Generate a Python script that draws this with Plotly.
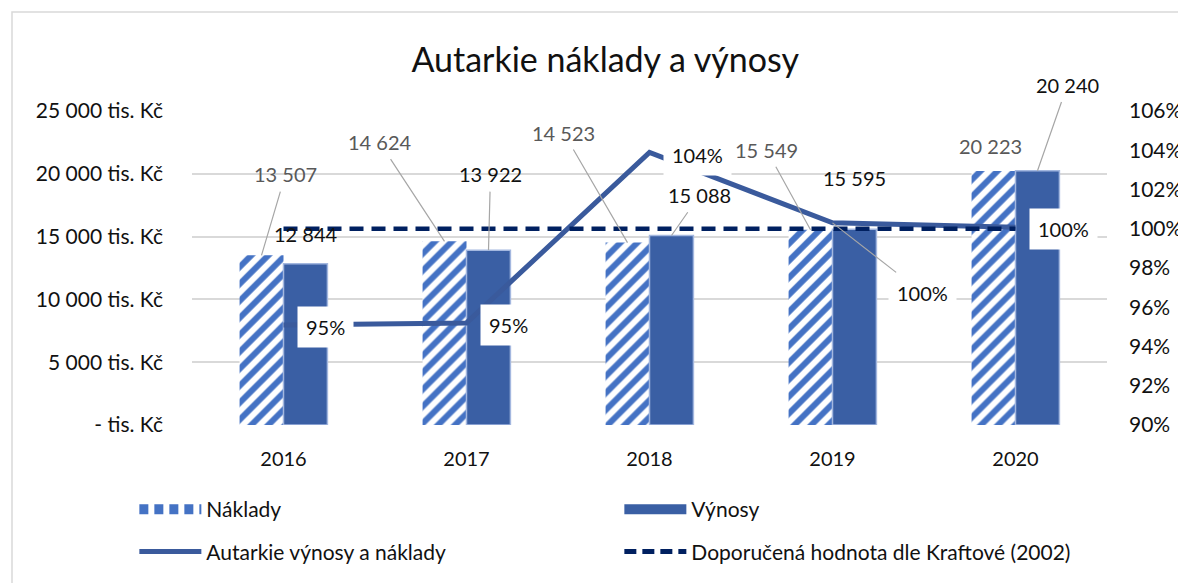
import plotly.graph_objects as go

years = ["2016", "2017", "2018", "2019", "2020"]
naklady = [13507, 14624, 14523, 15549, 20223]
vynosy = [12844, 13922, 15088, 15595, 20240]
autarkie = [0.9509, 0.9520, 1.0389, 1.0030, 1.0008]
doporucena = [1.0, 1.0, 1.0, 1.0, 1.0]

left_tickvals = [0, 5000, 10000, 15000, 20000, 25000]
left_ticktext = ["- tis. Kč", "5 000 tis. Kč", "10 000 tis. Kč", "15 000 tis. Kč",
                 "20 000 tis. Kč", "25 000 tis. Kč"]
right_tickvals = [0.90, 0.92, 0.94, 0.96, 0.98, 1.00, 1.02, 1.04, 1.06]
right_ticktext = ["90%", "92%", "94%", "96%", "98%", "100%", "102%", "104%", "106%"]
naklady_labels = ["13 507", "14 624", "14 523", "15 549", "20 223"]
vynosy_labels = ["12 844", "13 922", "15 088", "15 595", "20 240"]
autarkie_labels = ["95%", "95%", "104%", "100%", "100%"]

FONT = "Lato, 'Open Sans', sans-serif"
BLUE_HATCH = "#4472C4"
BLUE_BAR = "#3A5FA4"
BLUE_LINE = "#3A5A9C"
NAVY = "#002060"
GRAY_TXT = "#595959"
LEADER = "#A6A6A6"
LBL = 20

# page body has an 8px default margin; figure is sized to fill the rest
W, H = 1178, 575

fig = go.Figure()

fig.add_trace(go.Bar(
    x=years, y=naklady, name="Náklady", showlegend=False,
    marker=dict(color="white", line=dict(width=0),
                pattern=dict(shape="/", fgcolor=BLUE_HATCH, bgcolor="white",
                             size=12, solidity=0.5, fgopacity=1)),
    hoverinfo="skip"))
fig.add_trace(go.Bar(
    x=years, y=vynosy, name="Výnosy", showlegend=False,
    marker=dict(color=BLUE_BAR, line=dict(color="#A3B7DF", width=1.5)),
    hoverinfo="skip"))
fig.add_trace(go.Scatter(
    x=years, y=autarkie, yaxis="y2", mode="lines", showlegend=False,
    line=dict(color=BLUE_LINE, width=5), hoverinfo="skip"))
fig.add_trace(go.Scatter(
    x=years, y=doporucena, yaxis="y2", mode="lines", showlegend=False,
    line=dict(color=NAVY, width=4.5, dash="14px,8px"), hoverinfo="skip"))

# legend-only entries
fig.add_trace(go.Scatter(x=[None], y=[None], mode="lines", name="Náklady",
                         line=dict(color=BLUE_HATCH, width=12, dash="9px,6px"),
                         legend="legend"))
fig.add_trace(go.Scatter(x=[None], y=[None], mode="lines", name="Výnosy",
                         line=dict(color=BLUE_BAR, width=14), legend="legend"))
fig.add_trace(go.Scatter(x=[None], y=[None], mode="lines", name="Autarkie výnosy a náklady",
                         line=dict(color=BLUE_LINE, width=5), legend="legend2"))
fig.add_trace(go.Scatter(x=[None], y=[None], mode="lines",
                         name="Doporučená hodnota dle Kraftové (2002)",
                         line=dict(color=NAVY, width=5, dash="12px,6px"), legend="legend2"))

ann = []
nak_off = [(24, -81, True), (-65, -99, True), (-64, -110, True), (-44, -80, True), (-3, -25, False)]
for i, (v, lab, (ax, ay, arrow)) in enumerate(zip(naklady, naklady_labels, nak_off)):
    if arrow:
        ann.append(dict(x=i, y=v, xref="x", yref="y", xshift=-22, text=lab,
                        showarrow=True, ax=ax, ay=ay, arrowhead=0, arrowwidth=1.2,
                        arrowcolor=LEADER, standoff=0, startstandoff=4,
                        font=dict(family=FONT, size=LBL, color=GRAY_TXT)))
    else:
        ann.append(dict(x=i, y=v, xref="x", yref="y", xshift=-22 + ax, yshift=-ay, text=lab,
                        showarrow=False, font=dict(family=FONT, size=LBL, color=GRAY_TXT)))
vyn_off = [(0, -30, False), (2, -76, True), (28, -40, True), (0, -51, False), (30, -86, True)]
for i, (v, lab, (ax, ay, arrow)) in enumerate(zip(vynosy, vynosy_labels, vyn_off)):
    if arrow:
        ann.append(dict(x=i, y=v, xref="x", yref="y", xshift=22, text=lab,
                        showarrow=True, ax=ax, ay=ay, arrowhead=0, arrowwidth=1.2,
                        arrowcolor=LEADER, standoff=0, startstandoff=4,
                        font=dict(family=FONT, size=LBL, color="#111111")))
    else:
        ann.append(dict(x=i, y=v, xref="x", yref="y", xshift=22 + ax, yshift=-ay, text=lab,
                        showarrow=False, font=dict(family=FONT, size=LBL, color="#111111")))
aut_off = [(42, 2, False), (42, 2, False), (48, 3, False), (90, 70, True), (48, 2, False)]
for i, (v, lab, (ax, ay, arrow)) in enumerate(zip(autarkie, autarkie_labels, aut_off)):
    if arrow:
        ann.append(dict(x=i, y=v, xref="x", yref="y2", text=lab,
                        showarrow=True, ax=ax, ay=ay, arrowhead=0, arrowwidth=1.2,
                        arrowcolor=LEADER, standoff=0, bgcolor="white", borderpad=8,
                        font=dict(family=FONT, size=LBL, color="#111111")))
    else:
        ann.append(dict(x=i, y=v, xref="x", yref="y2", xshift=ax, yshift=-ay, text=lab,
                        showarrow=False, bgcolor="white", borderpad=8,
                        font=dict(family=FONT, size=LBL, color="#111111")))

fig.update_layout(
    width=W, height=H,
    margin=dict(l=184, r=79, t=103, b=158, autoexpand=False),
    paper_bgcolor="white", plot_bgcolor="white",
    font=dict(family=FONT, size=20, color="#111111"),
    title=dict(text="Autarkie náklady a výnosy", x=0.507, xanchor="center",
               y=0.9096, yanchor="middle",
               font=dict(family=FONT, size=34, color="#111111")),
    barmode="group", bargap=0.52, bargroupgap=0,
    xaxis=dict(type="category", range=[-0.5, 4.5], autorange=False,
               showgrid=False, showline=False, ticks="",
               tickfont=dict(size=20), ticklabelstandoff=20),
    yaxis=dict(range=[0, 25000], autorange=False, tickvals=left_tickvals,
               ticktext=left_ticktext,
               showgrid=True, gridcolor="#D9D9D9", gridwidth=1.5, zeroline=False,
               showline=False, ticks="", tickfont=dict(size=21),
               ticklabelstandoff=28),
    yaxis2=dict(range=[0.90, 1.06], autorange=False, tickvals=right_tickvals,
                ticktext=right_ticktext,
                overlaying="y", side="right", showgrid=False, zeroline=False,
                showline=False, ticks="", tickfont=dict(size=21),
                ticklabelstandoff=21),
    legend=dict(orientation="h", x=-0.063, xanchor="left", y=-0.204, yanchor="top",
                entrywidth=408, itemwidth=62, font=dict(family=FONT, size=21),
                bgcolor="rgba(0,0,0,0)"),
    legend2=dict(orientation="h", x=-0.063, xanchor="left", y=-0.339, yanchor="top",
                 entrywidth=408, itemwidth=62, font=dict(family=FONT, size=21),
                 bgcolor="rgba(0,0,0,0)"),
    annotations=ann,
    shapes=[dict(type="rect", xref="paper", yref="paper",
                 x0=(12 - 192) / 915, x1=(1200 - 192) / 915,
                 y0=-1, y1=1 + (111 - 12) / 314,
                 line=dict(color="#D9D9D9", width=1.5), fillcolor="rgba(0,0,0,0)",
                 layer="below")],
)

fig.write_html("out.html")
